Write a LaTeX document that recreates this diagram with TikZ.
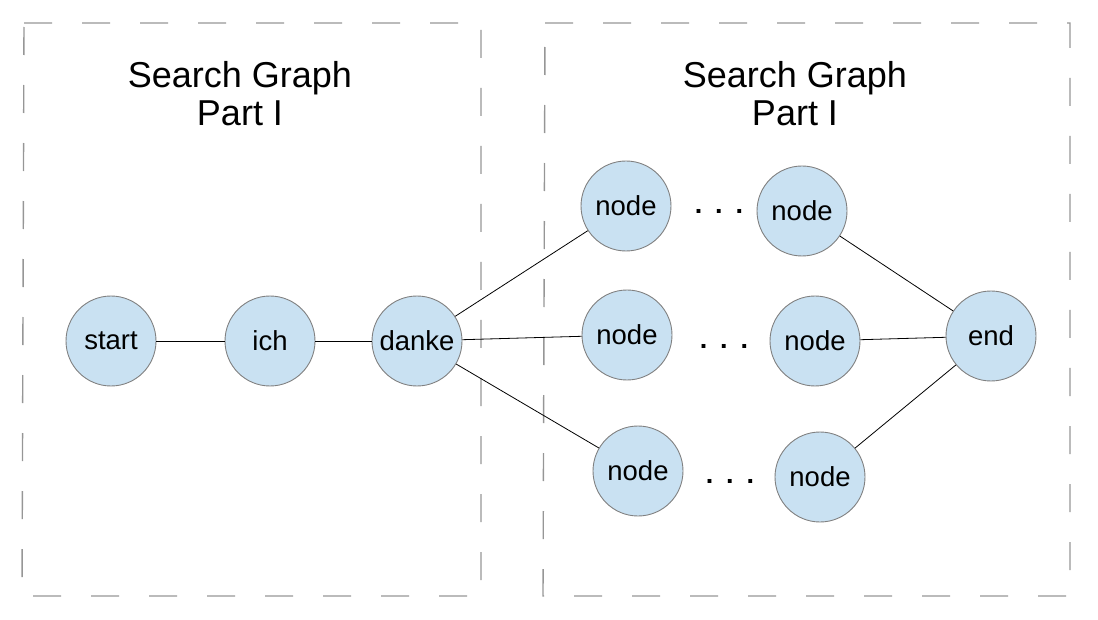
\documentclass[tikz,border=0pt]{standalone}
\usepackage{fontspec}
\setmainfont{Liberation Sans}
\usepackage{xcolor}
\definecolor{nodeblue}{RGB}{201,225,242}
\definecolor{rimgray}{RGB}{128,128,128}
\definecolor{boxgray}{RGB}{150,150,150}

\tikzset{
  gnode/.style={circle,draw=rimgray,line width=0.9pt,fill=nodeblue,minimum size=90pt,inner sep=0pt,
    font=\fontsize{27.5}{30}\selectfont},
  gbox/.style={draw=boxgray,line width=1.4pt,dash pattern=on 28pt off 30pt},
  gtitle/.style={align=center,font=\fontsize{36}{38}\selectfont},
  gdots/.style={font=\fontsize{27}{30}\bfseries},
  gedge/.style={line width=0.8pt}
}

\begin{document}
\begin{tikzpicture}[x=1pt,y=-1pt]
\useasboundingbox (0,0) rectangle (1098,620);
% the two parts
\draw[gbox] (24,23) -- (481,23) -- (481,596) -- (22,596) -- cycle;
\draw[gbox] (545,23) -- (1070,23) -- (1070,596) -- (543,596) -- cycle;
\node[gtitle] (titleA) at (240,94) {Search Graph\\Part I};
\node[gtitle] (titleB) at (795,94) {Search Graph\\Part I};
% nodes
\node[gnode] (start) at (111,341) {start};
\node[gnode] (ich) at (270,341) {ich};
\node[gnode] (danke) at (417,341) {danke};
\node[gnode] (topA) at (626,206) {node};
\node[gnode] (topB) at (802,211) {node};
\node[gnode] (midA) at (627,335) {node};
\node[gnode] (midB) at (815,341) {node};
\node[gnode] (lowA) at (638,471) {node};
\node[gnode] (lowB) at (820,477) {node};
\node[gnode] (end) at (991,336) {end};
\node[gdots] (dotsA) at (719,211) {.\hspace{13pt}.\hspace{13pt}.};
\node[gdots] (dotsB) at (724,346) {.\hspace{13pt}.\hspace{13pt}.};
\node[gdots] (dotsC) at (730,481) {.\hspace{13pt}.\hspace{13pt}.};
% edges
\draw[gedge] (start) -- (ich);
\draw[gedge] (ich) -- (danke);
\draw[gedge] (danke) -- (topA);
\draw[gedge] (danke) -- (midA);
\draw[gedge] (danke) -- (lowA);
\draw[gedge] (topB) -- (end);
\draw[gedge] (midB) -- (end);
\draw[gedge] (lowB) -- (end);
\end{tikzpicture}
\end{document}
